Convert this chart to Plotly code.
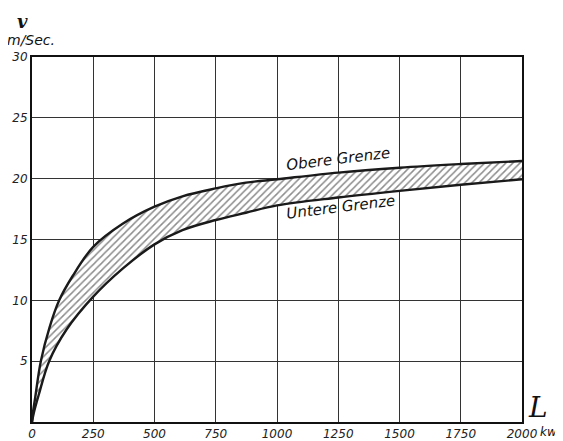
import plotly.graph_objects as go

# Data
upper_x = [0, 4, 13, 36, 72, 111, 166, 250, 370, 500, 614, 750, 873, 1000, 1250, 1500, 1750, 2000]
upper_v = [0, 0.8, 2.0, 5.0, 7.8, 10.0, 12.0, 14.4, 16.3, 17.7, 18.55, 19.2, 19.67, 19.95, 20.5, 20.9, 21.2, 21.45]
lower_x = [0, 8, 27, 70, 141, 250, 370, 500, 614, 750, 873, 1000, 1250, 1500, 1750, 2000]
lower_v = [0, 0.8, 2.2, 5.0, 7.6, 10.3, 12.6, 14.6, 15.77, 16.6, 17.2, 17.8, 18.45, 19.0, 19.5, 19.95]

x_ticks = [0, 250, 500, 750, 1000, 1250, 1500, 1750, 2000]
y_ticks = [5, 10, 15, 20, 25, 30]

fig = go.Figure()
fig.add_trace(go.Scatter(x=lower_x, y=lower_v, mode="lines",
                         line=dict(color="#1a1a1a", width=2.4, shape="spline", smoothing=1.0),
                         hoverinfo="skip"))
fig.add_trace(go.Scatter(x=upper_x, y=upper_v, mode="lines",
                         line=dict(color="#1a1a1a", width=2.4, shape="spline", smoothing=1.0),
                         fill="tonexty", fillcolor="rgba(0,0,0,0)",
                         fillpattern=dict(shape="/", fgcolor="#1a1a1a", bgcolor="white",
                                          size=5, solidity=0.3),
                         hoverinfo="skip"))

tickfont = dict(family="DejaVu Sans", size=12, color="#222", style="italic")
common = dict(showgrid=True, gridcolor="#333", gridwidth=1, zeroline=False,
              showline=True, linecolor="#111", linewidth=2, mirror=True,
              ticks="", tickfont=tickfont, automargin=False)
fig.update_xaxes(range=[0, 2000], tickvals=x_ticks, ticktext=[str(t) for t in x_ticks],
                 **common)
fig.update_yaxes(range=[0, 30], tickvals=y_ticks, ticktext=[str(t) for t in y_ticks],
                 **common)

ann_font = dict(family="DejaVu Sans", size=15, color="#111", style="italic")
fig.add_annotation(x=1249, y=21.6, text="Obere Grenze", showarrow=False,
                   textangle=-7, font=ann_font, xanchor="center", yanchor="middle")
fig.add_annotation(x=1261, y=17.7, text="Untere Grenze", showarrow=False,
                   textangle=-7, font=ann_font, xanchor="center", yanchor="middle")

fig.add_annotation(xref="paper", yref="paper", x=-0.02, y=1.098, text="<b>v</b>",
                   showarrow=False, xanchor="center", yanchor="middle",
                   font=dict(family="DejaVu Serif", size=18, color="#111", style="italic"))
fig.add_annotation(xref="paper", yref="paper", x=-0.002, y=1.047, text="m/Sec.",
                   showarrow=False, xanchor="center", yanchor="middle",
                   font=dict(family="DejaVu Sans", size=14, color="#111", style="italic"))
fig.add_annotation(xref="paper", yref="paper", x=1.033, y=0.041, text="L",
                   showarrow=False, xanchor="center", yanchor="middle",
                   font=dict(family="DejaVu Serif", size=28, color="#111", style="italic"))
fig.add_annotation(xref="paper", yref="paper", x=1.033, y=-0.028, xanchor="left",
                   yanchor="middle", text="kw", showarrow=False,
                   font=dict(family="DejaVu Sans", size=12, color="#111", style="italic"))

# page body has an 8px margin, so the figure is sized to fit the 563x441 window
fig.update_layout(width=555, height=433, margin=dict(l=24, r=41, t=49, b=19),
                  paper_bgcolor="white", plot_bgcolor="white", showlegend=False)

fig.write_html("out.html")
